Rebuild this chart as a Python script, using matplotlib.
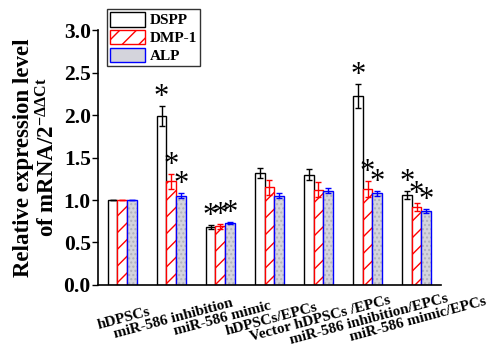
import numpy as np
import matplotlib
matplotlib.use("Agg")
import matplotlib.pyplot as plt
from matplotlib.patches import Patch

plt.rcParams["font.family"] = ["Liberation Serif", "DejaVu Serif"]
plt.rcParams["font.weight"] = "bold"
plt.rcParams["mathtext.fontset"] = "custom"
plt.rcParams["mathtext.rm"] = "Liberation Serif:bold"
plt.rcParams["mathtext.it"] = "Liberation Serif:bold"
plt.rcParams["mathtext.bf"] = "Liberation Serif:bold"
plt.rcParams["hatch.linewidth"] = 1.0

groups = ["hDPSCs", "miR-586 inhibition", "miR-586 mimic", "hDPSCs/EPCs",
          "Vector hDPSCs /EPCs", "miR-586 inhibition/EPCs", "miR-586 mimic/EPCs"]
dspp = [1.00, 1.99, 0.68, 1.32, 1.30, 2.22, 1.06]
dspp_err = [0.005, 0.12, 0.02, 0.06, 0.06, 0.14, 0.05]
dmp1 = [1.00, 1.22, 0.69, 1.15, 1.12, 1.13, 0.92]
dmp1_err = [0.005, 0.09, 0.03, 0.09, 0.09, 0.09, 0.05]
alp = [1.00, 1.05, 0.73, 1.05, 1.11, 1.08, 0.87]
alp_err = [0.005, 0.03, 0.01, 0.03, 0.03, 0.03, 0.02]
# which bars carry a significance star
star_dspp = [False, True, True, False, False, True, True]
star_dmp1 = [False, True, True, False, False, True, True]
star_alp = [False, True, True, False, False, True, True]

x = np.arange(len(groups))
w = 0.2

fig = plt.figure(figsize=(4.89, 3.54), dpi=100)
ax = fig.add_axes([0.2, 0.195, 0.702, 0.72])

# DSPP: open bars
ax.bar(x - w, dspp, w, facecolor="white", edgecolor="black", linewidth=1.0)
ax.errorbar(x - w, dspp, yerr=dspp_err, fmt="none", ecolor="black",
            elinewidth=1.0, capsize=2.5, capthick=1.0)

# DMP-1: red hatched
ax.bar(x, dmp1, w, facecolor="white", edgecolor="red", hatch="//", linewidth=1.0)
ax.errorbar(x, dmp1, yerr=dmp1_err, fmt="none", ecolor="red",
            elinewidth=1.0, capsize=2.5, capthick=1.0)

# ALP: grey dotted fill with blue outline
ax.bar(x + w, alp, w, facecolor="#d4d4dc", edgecolor="#b0b0bc", hatch="....",
       linewidth=0)
ax.bar(x + w, alp, w, fill=False, edgecolor="blue", linewidth=1.0)
ax.errorbar(x + w, alp, yerr=alp_err, fmt="none", ecolor="blue",
            elinewidth=1.0, capsize=2.5, capthick=1.0)

for off, vals, errs, stars in [(-w, dspp, dspp_err, star_dspp),
                               (0, dmp1, dmp1_err, star_dmp1),
                               (w, alp, alp_err, star_alp)]:
    for xi, v, e, s in zip(x, vals, errs, stars):
        if s:
            ax.text(xi + off, v + e - 0.07, "*", ha="center", va="bottom",
                    fontsize=22, fontweight="normal", color="black")

ax.set_xlim(-0.5, 6.5)
ax.set_ylim(0, 3.0)
ax.set_yticks(np.arange(0, 3.01, 0.5))
ax.set_yticklabels([f"{v:.1f}" for v in np.arange(0, 3.01, 0.5)],
                   fontsize=15.5, fontweight="bold")
ax.tick_params(axis="y", direction="out", length=4, width=1.0, pad=1)
ax.set_xticks(x)
ax.set_xticklabels(groups, rotation=15, ha="center", rotation_mode="anchor",
                   fontsize=11, fontweight="bold")
ax.tick_params(axis="x", length=0, pad=20)
ax.spines[["top", "right"]].set_visible(False)
ax.spines[["left", "bottom"]].set_linewidth(1.2)

ax.set_ylabel("Relative expression level\nof mRNA/2$^{\\mathrm{-ΔΔCt}}$",
              fontsize=16.5, fontweight="bold", labelpad=3, linespacing=1.15)

handles = [Patch(facecolor="white", edgecolor="black", label="DSPP"),
           Patch(facecolor="white", edgecolor="red", hatch="//", label="DMP-1"),
           Patch(facecolor="#d4d4dc", edgecolor="blue", label="ALP")]
leg = fig.legend(handles=handles, loc="upper left", bbox_to_anchor=(0.218, 0.975),
                 frameon=True, fancybox=False, edgecolor="black",
                 prop={"weight": "bold", "size": 11}, handlelength=2.3,
                 handleheight=1.1, borderpad=0.2, labelspacing=0.15,
                 handletextpad=0.3, borderaxespad=0)
leg.get_frame().set_linewidth(1.0)

fig.savefig("out.png", dpi=100)
